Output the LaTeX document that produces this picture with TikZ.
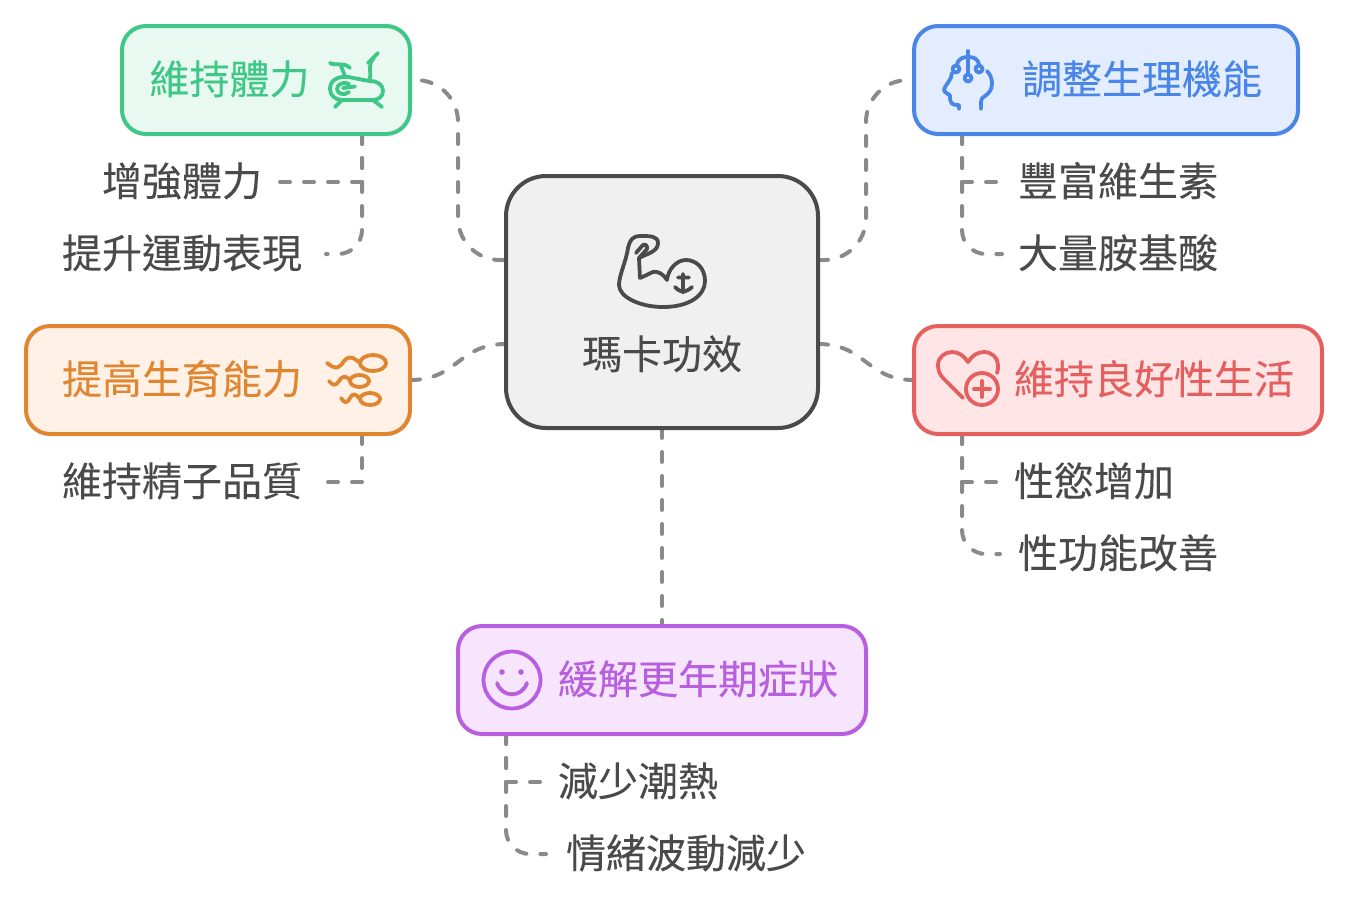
\documentclass[tikz,border=0pt]{standalone}
\usepackage{fontspec}
\setmainfont[FakeBold=0.12]{Noto Sans CJK TC}
\usetikzlibrary{backgrounds}
\definecolor{txt}{HTML}{4A4A4A}
\definecolor{cn}{HTML}{8A8A8A}
\definecolor{gs}{HTML}{3EC786}\definecolor{gf}{HTML}{E8F9F1}
\definecolor{bs}{HTML}{4A86E8}\definecolor{bf}{HTML}{E3EDFF}
\definecolor{os}{HTML}{E08530}\definecolor{of}{HTML}{FFF1E5}
\definecolor{rs}{HTML}{E55F5F}\definecolor{rf}{HTML}{FFE5E5}
\definecolor{ps}{HTML}{B85FE0}\definecolor{pf}{HTML}{F6E5FD}
\definecolor{cs}{HTML}{4A4A4A}\definecolor{cf}{HTML}{F0F0F0}
\tikzset{
 every node/.style={outer sep=0pt,font=\fontsize{40}{48}\selectfont},
 boxn/.style={draw=#1s,fill=#1f,line width=4pt,rounded corners=24pt,inner sep=0pt},
 lbl/.style={text=#1,text height=33pt,text depth=5pt,inner ysep=0pt},
 kid/.style={lbl=txt,inner xsep=#1},
 conn/.style={draw=cn,line width=4pt,line cap=round,dash pattern=on 10pt off 14pt},
 connb/.style={conn,dash phase=12pt},
 ico/.style={draw=#1,line width=3.8pt,line cap=round,line join=round,fill=none},
}
\begin{document}
\begin{tikzpicture}[x=1pt,y=-1pt]
\useasboundingbox (0,0) rectangle (1348,903);
% boxes
\node[boxn=c,rounded corners=40pt,minimum width=312pt,minimum height=252pt] (c) at (662,302) {};
\node[boxn=g,minimum width=288pt,minimum height=108pt] (g) at (266,80) {};
\node[boxn=b,minimum width=384pt,minimum height=108pt] (b) at (1106,80) {};
\node[boxn=o,minimum width=384pt,minimum height=108pt] (o) at (218,380) {};
\node[boxn=r,minimum width=408pt,minimum height=108pt] (r) at (1118,380) {};
\node[boxn=p,minimum width=408pt,minimum height=108pt] (p) at (662,680) {};
% titles
\node[lbl=txt] (ct) at (662,355) {瑪卡功效};
\node[lbl=gs] (gt) at (229.5,80) {維持體力};
\node[lbl=bs] (bt) at (1142,80) {調整生理機能};
\node[lbl=os] (ot) at (182,380) {提高生育能力};
\node[lbl=rs] (rt) at (1154,380) {維持良好性生活};
\node[lbl=ps] (pt) at (698,680) {緩解更年期症狀};
% children
\node[kid=18pt] (g1) at (182,182) {增強體力};
\node[kid=24pt] (g2) at (182,254) {提升運動表現};
\node[kid=18pt] (b1) at (1118,182) {豐富維生素};
\node[kid=16pt] (b2) at (1118,254) {大量胺基酸};
\node[kid=24pt] (o1) at (182,482) {維持精子品質};
\node[kid=16pt] (r1) at (1094,482) {性慾增加};
\node[kid=18pt] (r2) at (1118,554) {性功能改善};
\node[kid=18pt] (p1) at (638,782) {減少潮熱};
\node[kid=20pt] (p2) at (686,854) {情緒波動減少};
% connectors
\begin{scope}[on background layer]
\draw[connb,rounded corners=42pt] (g.east) -| (458,170) |- ([yshift=42pt]c.west);
\draw[conn,rounded corners=42pt] ([yshift=42pt]c.east) -| (866,170) |- (b.west);
\draw[conn] (o.east) .. controls (458,380) and (458,344) .. ([yshift=-42pt]c.west);
\draw[conn] ([yshift=-42pt]c.east) .. controls (866,344) and (866,380) .. (r.west);
\draw[conn] (c.south) -- (p.north);
\draw[conn] ([xshift=96pt]g.south) |- (g1.east);
\draw[conn,rounded corners=24pt] ([xshift=96pt]g.south) |- (g2.east);
\draw[conn] ([xshift=-144pt]b.south) |- (b1.west);
\draw[conn,rounded corners=24pt] ([xshift=-144pt]b.south) |- (b2.west);
\draw[conn] ([xshift=144pt]o.south) |- (o1.east);
\draw[conn] ([xshift=-156pt]r.south) |- (r1.west);
\draw[conn,rounded corners=24pt] ([xshift=-156pt]r.south) |- (r2.west);
\draw[conn] ([xshift=-156pt]p.south) |- (p1.west);
\draw[conn,rounded corners=24pt] ([xshift=-156pt]p.south) |- (p2.west);
\end{scope}
% arm icon
\begin{scope}[ico=cs]
\draw[ico=cs] (667,280) .. controls (662,272) and (655,271) .. (653,272) .. controls (648,274) and (645,276) .. (640,278)
 -- (639,258) .. controls (646,254) and (658,252) .. (658,243) .. controls (658,236) and (650,236) .. (641,236)
 .. controls (632,236) and (630,240) .. (628,248) .. controls (626,262) and (619,275) .. (619,285)
 .. controls (619,297) and (640,307) .. (663,307) .. controls (690,307) and (705,295) .. (705,281)
 .. controls (705,268) and (696,260) .. (686,260) .. controls (676,260) and (668,270) .. (667,280);
\draw[ico=cs] (636,253) -- (642,246) .. controls (644,243) and (648,245) .. (647,249) -- (639,258);
\draw[ico=cs] (683,274) -- (683,291) (678,277.5) -- (689,277.5) (675,287) .. controls (678,290) and (680,291) .. (683,292) .. controls (686,291) and (689,290) .. (692,287);
\end{scope}
% bike icon
\draw[ico=gs] (378,53) -- (368,63);
\draw[ico=gs] (374,58) .. controls (366,66) and (373,72) .. (369,81);
\draw[ico=gs] (330,63) .. controls (335,66) and (345,62) .. (350,68);
\draw[ico=gs] (341,66) -- (345,76);
\draw[ico=gs] (348,77) .. controls (355,78) and (362,80) .. (370,81) .. controls (378,81) and (383,85) .. (383,91) .. controls (383,97) and (378,100) .. (372,100) -- (342,100) .. controls (335,100) and (330,95) .. (330,89) .. controls (330,80) and (338,76) .. (348,77);
\draw[ico=gs] (335,107) -- (342,100) (382,107) -- (373,100);
\draw[ico=gs] (349,84) .. controls (344,81) and (337,84) .. (337,89) .. controls (337,94) and (345,96) .. (349,92) (343,88) -- (355,86.5);
% head icon
\draw[ico=bs] (968,51) -- (968,75);
\draw[ico=bs] (968,78) circle (3.5);
\draw[ico=bs] (956,69) circle (3.5) (979,69) circle (3.5);
\draw[ico=bs] (957,65) .. controls (958,58) and (964,57) .. (968,57) .. controls (973,57) and (978,58) .. (979,65);
\draw[ico=bs] (952,73) .. controls (952,80) and (944,86) .. (944,90) .. controls (944,93) and (950,94) .. (950,96) .. controls (950,104) and (952,105) .. (959,105) -- (959,109);
\draw[ico=bs] (987,71) .. controls (992,76) and (992,82) .. (992,84) .. controls (992,90) and (988,94) .. (985,96) .. controls (982,98) and (981,99) .. (981,102) -- (981,109);
% sperm icon
\draw[ico=os] (373,363) ellipse (13 and 8);
\draw[ico=os] (360,363) .. controls (352,356) and (348,356) .. (344,361) .. controls (340,367) and (337,371) .. (327,363);
\draw[ico=os] (359.5,381) ellipse (9.5 and 6);
\draw[ico=os] (350,380) .. controls (345,375) and (342,376) .. (339,381) .. controls (336,386) and (333,386) .. (329,381);
\draw[ico=os] (370,399) ellipse (10 and 6);
\draw[ico=os] (360,399) .. controls (355,393) and (353,393) .. (350,398) .. controls (347,404) and (344,403) .. (341,398);
% heart icon
\draw[ico=rs] (963,398) -- (943,378) .. controls (939,374) and (938,369) .. (938,365) .. controls (938,357) and (945,352) .. (952,352) .. controls (959,352) and (964,356) .. (968,362) .. controls (972,356) and (977,352) .. (984,352) .. controls (992,352) and (998,358) .. (998,365) .. controls (998,368) and (998,371) .. (997,373);
\draw[ico=rs] (982,389) circle (16);
\draw[ico=rs] (974,389) -- (990,389) (982,381) -- (982,397);
% smile icon
\draw[ico=ps] (512,680) circle (28.5);
\fill[ps] (502,672) circle (2.8) (521,672) circle (2.8);
\draw[ico=ps] (497,683) .. controls (502,698) and (522,698) .. (527,683);
\end{tikzpicture}
\end{document}
